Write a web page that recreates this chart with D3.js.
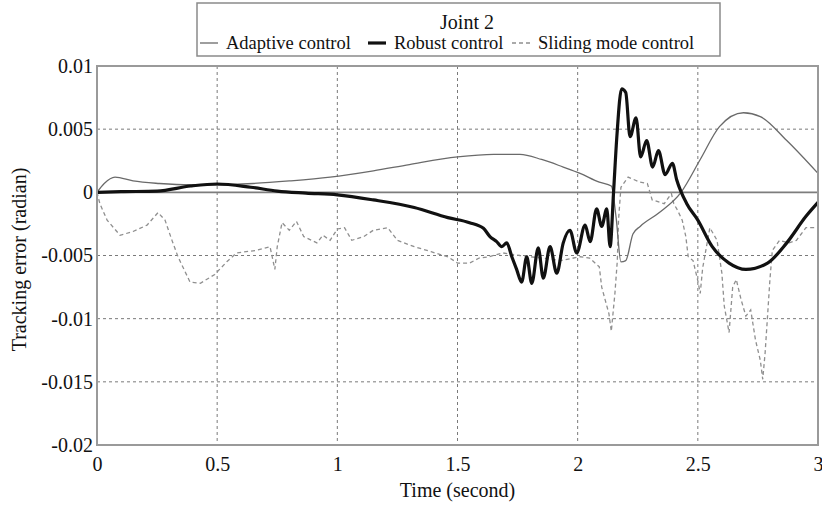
<!DOCTYPE html>
<html>
<head>
<meta charset="utf-8">
<script src="https://cdn.jsdelivr.net/npm/d3@7"></script>
<style>
  body { margin: 0; background: #fff; }
  svg, svg text { font-family: "Liberation Serif", "Times New Roman", Times, "DejaVu Serif", serif !important; }
</style>
</head>
<body>
<div id="chart"></div>
<script>
// tick labels
var xTicks = [0, 0.5, 1, 1.5, 2, 2.5, 3];
var yTicks = [0.01, 0.005, 0, -0.005, -0.01, -0.015, -0.02];
var yTickLabels = ["0.01", "0.005", "0", "-0.005", "-0.01", "-0.015", "-0.02"];

// series names
var seriesNames = ["Adaptive control", "Robust control", "Sliding mode control"];

// adaptive control (thin solid)
var adaptiveT = [0, 0.03, 0.075, 0.15, 0.26, 0.39, 0.5, 0.65, 0.8, 0.97, 1.15, 1.3, 1.5, 1.65, 1.76, 1.85, 1.94, 2.01, 2.09, 2.14, 2.16, 2.18, 2.2, 2.23, 2.26, 2.34, 2.43, 2.51, 2.59, 2.69, 2.76, 2.87, 3.0];
var adaptiveV = [0, 0.0007, 0.0012, 0.0009, 0.0007, 0.0006, 0.0006, 0.0007, 0.0009, 0.0012, 0.0017, 0.0022, 0.0028, 0.003, 0.003, 0.0026, 0.002, 0.0015, 0.0008, 0.0005, -0.002, -0.0055, -0.0054, -0.0033, -0.0027, -0.0016, 0, 0.0026, 0.0052, 0.0063, 0.006, 0.0041, 0.0015];

// robust control (thick solid)
var robustT = [0, 0.1, 0.25, 0.39, 0.5, 0.64, 0.75, 0.87, 1.0, 1.15, 1.32, 1.46, 1.55, 1.608, 1.635, 1.663, 1.684, 1.705, 1.726, 1.746, 1.767, 1.788, 1.809, 1.836, 1.857, 1.885, 1.913, 1.94, 1.968, 1.996, 2.031, 2.052, 2.079, 2.1, 2.121, 2.135, 2.149, 2.163, 2.183, 2.2, 2.218, 2.243, 2.262, 2.287, 2.312, 2.336, 2.364, 2.394, 2.412, 2.454, 2.5, 2.56, 2.63, 2.7, 2.79, 2.87, 2.95, 3.0];
var robustV = [0, 0.00005, 0.0001, 0.0005, 0.00066, 0.0004, 0.0001, -0.00006, -0.0002, -0.0006, -0.0012, -0.002, -0.0024, -0.00285, -0.0035, -0.0039, -0.0043, -0.004, -0.0051, -0.0061, -0.0071, -0.0051, -0.0072, -0.0044, -0.0068, -0.0043, -0.0064, -0.004, -0.003, -0.0048, -0.0026, -0.0039, -0.0013, -0.0027, -0.0013, -0.0043, -0.0001, 0.0044, 0.0082, 0.0079, 0.0044, 0.0059, 0.0028, 0.0041, 0.002, 0.0033, 0.0014, 0.0023, 0.001, -0.0009, -0.0022, -0.0043, -0.0056, -0.0061, -0.0056, -0.004, -0.0019, -0.0008];

// sliding mode control (dashed)
var slidingT = [0, 0.012, 0.042, 0.096, 0.15, 0.208, 0.254, 0.283, 0.312, 0.337, 0.387, 0.43, 0.49, 0.54, 0.58, 0.66, 0.72, 0.74, 0.75, 0.77, 0.8, 0.83, 0.86, 0.915, 0.94, 0.97, 1.0, 1.03, 1.06, 1.11, 1.15, 1.21, 1.25, 1.32, 1.39, 1.46, 1.5, 1.55, 1.59, 1.63, 1.69, 1.76, 1.85, 1.93, 2.01, 2.05, 2.09, 2.1, 2.13, 2.14, 2.155, 2.165, 2.17, 2.18, 2.21, 2.26, 2.29, 2.31, 2.36, 2.39, 2.4, 2.415, 2.435, 2.45, 2.46, 2.48, 2.5, 2.51, 2.52, 2.55, 2.58, 2.6, 2.61, 2.63, 2.645, 2.66, 2.68, 2.7, 2.72, 2.74, 2.76, 2.77, 2.78, 2.79, 2.8, 2.81, 2.84, 2.88, 2.91, 2.95, 3.0];
var slidingV = [0, -0.0009, -0.0022, -0.0034, -0.0031, -0.0026, -0.0016, -0.0022, -0.0038, -0.0051, -0.0071, -0.0072, -0.0065, -0.0055, -0.0048, -0.0046, -0.0043, -0.0061, -0.0043, -0.0024, -0.003, -0.0023, -0.0035, -0.004, -0.0034, -0.0038, -0.0029, -0.0028, -0.0038, -0.0035, -0.003, -0.0028, -0.0038, -0.0043, -0.0047, -0.0051, -0.0056, -0.0056, -0.0052, -0.0051, -0.0048, -0.005, -0.0052, -0.0054, -0.0051, -0.0052, -0.0059, -0.0075, -0.0096, -0.011, -0.008, -0.0054, -0.0022, 0.0004, 0.0012, 0.0008, 0.0007, -0.0006, -0.0009, -0.0001, -0.0009, -0.0014, -0.0022, -0.0035, -0.0051, -0.0054, -0.007, -0.008, -0.006, -0.0028, -0.0038, -0.0064, -0.009, -0.0111, -0.0075, -0.0069, -0.0085, -0.0098, -0.0093, -0.0117, -0.0133, -0.0148, -0.0127, -0.0098, -0.0069, -0.0046, -0.0038, -0.004, -0.0038, -0.0028, -0.0028];

var W = 822, H = 505;
var margin = { top: 66, right: 4, bottom: 60, left: 97 };
var FONT = "'Liberation Serif', 'Times New Roman', Times, 'DejaVu Serif', serif";

var svg = d3.select("#chart").append("svg")
  .attr("width", W)
  .attr("height", H)
  .attr("font-family", FONT);

var x = d3.scaleLinear().domain([0, 3]).range([margin.left, W - margin.right]);
var y = d3.scaleLinear().domain([-0.02, 0.01]).range([H - margin.bottom, margin.top]);

// grid
svg.append("g")
  .selectAll("line")
  .data(xTicks.slice(1, -1))
  .enter().append("line")
  .attr("x1", d => x(d)).attr("x2", d => x(d))
  .attr("y1", y(0.01)).attr("y2", y(-0.02))
  .attr("stroke", "#7a7a7a")
  .attr("stroke-width", 1)
  .attr("stroke-dasharray", "3,3");

svg.append("g")
  .selectAll("line")
  .data(yTicks.filter(d => d != 0 && d != 0.01 && d != -0.02))
  .enter().append("line")
  .attr("x1", x(0)).attr("x2", x(3))
  .attr("y1", d => y(d)).attr("y2", d => y(d))
  .attr("stroke", "#7a7a7a")
  .attr("stroke-width", 1)
  .attr("stroke-dasharray", "3,3");

// zero line
svg.append("line")
  .attr("x1", x(0)).attr("x2", x(3))
  .attr("y1", y(0)).attr("y2", y(0))
  .attr("stroke", "#7d7d7d")
  .attr("stroke-width", 1.6);

// axes labels (no tick marks)
var xAxis = d3.axisBottom(x).tickValues(xTicks).tickSize(0).tickPadding(12)
  .tickFormat(d => String(d));
svg.append("g")
  .attr("transform", "translate(0," + y(-0.02) + ")")
  .call(xAxis)
  .attr("font-family", FONT)
  .attr("font-size", 20)
  .call(g => g.select(".domain").remove())
  .selectAll("text")
  .attr("fill", "#111");

var yAxis = d3.axisLeft(y).tickValues(yTicks).tickSize(0).tickPadding(4)
  .tickFormat((d, i) => yTickLabels[i]);
svg.append("g")
  .attr("transform", "translate(" + x(0) + ",0)")
  .call(yAxis)
  .attr("font-family", FONT)
  .attr("font-size", 20)
  .call(g => g.select(".domain").remove())
  .selectAll("text")
  .attr("fill", "#111");

svg.append("text")
  .attr("x", (x(0) + x(3)) / 2)
  .attr("y", 497)
  .attr("text-anchor", "middle")
  .attr("font-size", 20)
  .attr("fill", "#111")
  .text("Time (second)");

svg.append("text")
  .attr("transform", "translate(26," + (y(-0.005) + 4) + ") rotate(-90)")
  .attr("text-anchor", "middle")
  .attr("font-size", 20)
  .attr("fill", "#111")
  .text("Tracking error (radian)");

// series
var line = d3.line().x(d => x(d[0])).y(d => y(d[1]));
var smoothLine = d3.line().x(d => x(d[0])).y(d => y(d[1])).curve(d3.curveMonotoneX);

svg.append("path")
  .datum(slidingT.map((t, i) => [t, slidingV[i]]))
  .attr("d", line)
  .attr("fill", "none")
  .attr("stroke", "#8f8f8f")
  .attr("stroke-width", 1.3)
  .attr("stroke-dasharray", "4,3");

svg.append("path")
  .datum(adaptiveT.map((t, i) => [t, adaptiveV[i]]))
  .attr("d", smoothLine)
  .attr("fill", "none")
  .attr("stroke", "#6a6a6a")
  .attr("stroke-width", 1.3);

svg.append("path")
  .datum(robustT.map((t, i) => [t, robustV[i]]))
  .attr("d", smoothLine)
  .attr("fill", "none")
  .attr("stroke", "#111")
  .attr("stroke-width", 3.2)
  .attr("stroke-linejoin", "round");

// frame
svg.append("rect")
  .attr("x", x(0)).attr("y", y(0.01))
  .attr("width", x(3) - x(0)).attr("height", y(-0.02) - y(0.01))
  .attr("fill", "none")
  .attr("stroke", "#9a9a9a")
  .attr("stroke-width", 2);

// legend
var legend = svg.append("g");
legend.append("rect")
  .attr("x", 197).attr("y", 3)
  .attr("width", 523).attr("height", 53)
  .attr("fill", "#fff")
  .attr("stroke", "#8a8a8a")
  .attr("stroke-width", 1.5);

legend.append("text")
  .attr("x", 467).attr("y", 29)
  .attr("text-anchor", "middle")
  .attr("font-size", 20)
  .attr("fill", "#111")
  .text("Joint 2");

var legendX = [200, 368, 512];
var legendStyles = [
  { stroke: "#6a6a6a", width: 1.3, dash: null },
  { stroke: "#111", width: 3.2, dash: null },
  { stroke: "#8f8f8f", width: 1.3, dash: "4,3" }
];
seriesNames.forEach(function (name, i) {
  legend.append("line")
    .attr("x1", legendX[i]).attr("x2", legendX[i] + 18)
    .attr("y1", 43).attr("y2", 43)
    .attr("stroke", legendStyles[i].stroke)
    .attr("stroke-width", legendStyles[i].width)
    .attr("stroke-dasharray", legendStyles[i].dash);
  legend.append("text")
    .attr("x", legendX[i] + 26).attr("y", 49)
    .attr("font-size", 18.5)
    .attr("fill", "#111")
    .text(name);
});
</script>
</body>
</html>
